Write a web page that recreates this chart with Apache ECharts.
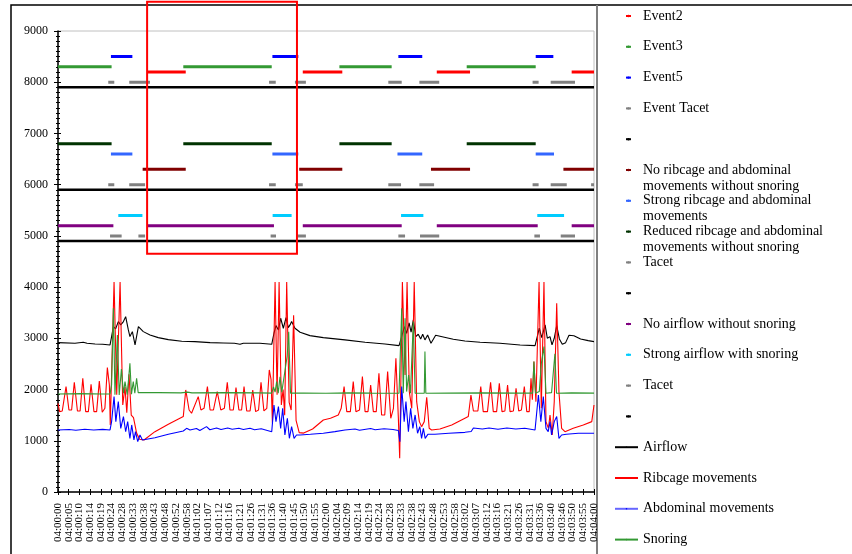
<!DOCTYPE html>
<html><head><meta charset="utf-8">
<script src="https://cdn.jsdelivr.net/npm/echarts@6/dist/echarts.min.js"></script>
<style>html,body{margin:0;padding:0;background:#fff}#c{width:852px;height:554px}</style>
</head><body><div id="c"></div>
<script>
// ---------------- DATA ----------------
const timeLabels = ['04:00:00','04:00:05','04:00:10','04:00:14','04:00:19','04:00:24','04:00:28','04:00:33','04:00:38','04:00:43','04:00:48','04:00:52','04:00:58','04:01:02','04:01:07','04:01:12','04:01:16','04:01:21','04:01:26','04:01:31','04:01:36','04:01:40','04:01:45','04:01:50','04:01:55','04:02:00','04:02:04','04:02:09','04:02:14','04:02:19','04:02:24','04:02:28','04:02:33','04:02:38','04:02:43','04:02:48','04:02:53','04:02:58','04:03:02','04:03:07','04:03:12','04:03:16','04:03:21','04:03:26','04:03:31','04:03:36','04:03:40','04:03:46','04:03:50','04:03:55','04:04:00'];
const labelStep = 4.8; // seconds between tick labels
const totalSeconds = 240;

// event segments [start s, end s]
const event2Segs = [[40.2,57.2],[109.6,127.3],[169.6,184.5],[230,240]];
const event3Segs = [[0,24],[56.1,95.7],[126,149.4],[183,213.9]];
const event5Segs = [[23.7,33.3],[96,107.6],[152.4,163.1],[213.9,221.8]];
const eventTacetSegs = [[22.5,25.2],[31.9,41.2],[94.5,97.5],[106.1,111],[147.9,153.9],[161.8,170.7],[212.5,215.2],[220.6,231.5]];
const noRibSegs = [[37.9,57.2],[108,127.3],[167,184.5],[226.3,240]];
const strongRibSegs = [[23.7,33.3],[96,107.6],[152,163.1],[213.9,222.1]];
const reducedRibSegs = [[0,24],[56.1,95.7],[126,149.4],[183,213.9]];
const tacetRibSegs = [[22.5,25.2],[31.9,39],[94.5,97.5],[106.1,109.6],[147.9,153.6],[161.8,168.4],[212.5,215.2],[220.6,227.8],[238.7,240]];
const noAirSegs = [[0,24.8],[40.2,96.7],[109.6,153.9],[169.6,214.8],[230,240]];
const strongAirSegs = [[27,37.8],[96.1,104.6],[153.6,163.6],[214.6,226.6]];
const tacetAirSegs = [[23.3,28.5],[36,39],[95.2,97.6],[106.6,111],[152.4,155.4],[162.1,170.7],[213.3,215.8],[225.1,231.5]];
const separatorSegs = [[0,240]];

// event levels
const levelEvent2 = 8200, levelEvent3 = 8300, levelEvent5 = 8500, levelEventTacet = 8000, levelSep1 = 7900;
const levelNoRib = 6300, levelStrongRib = 6600, levelReducedRib = 6800, levelTacetRib = 6000, levelSep2 = 5900;
const levelNoAir = 5200, levelStrongAir = 5400, levelTacetAir = 5000, levelSep3 = 4900;

// signals [seconds, value]
const airflow = [[0,2916],[7.6,2904],[11.3,2925],[13,2905],[16.6,2890],[20,2885],[23.3,2871],[24.0,3034],[24.8,3229],[25.8,3184],[27.0,3327],[28.1,3262],[29.3,3327],[30.3,3424],[31.5,3164],[32.2,3034],[33.3,3131],[34.5,2871],[36.0,3229],[38.2,3131],[41.2,3066],[44.9,3014],[49.4,2975],[55.4,2943],[61.3,2936],[68.1,2916],[74.0,2910],[79,2905],[81.5,2885],[83,2905],[90.4,2904],[95.7,2884],[96.7,3099],[97.6,3249],[98.7,3164],[99.7,3392],[100.9,3197],[102.1,3405],[103.1,3210],[103.9,3262],[104.6,3327],[106.1,3197],[108.4,3118],[112.8,3053],[118.8,3014],[128.5,2969],[137.5,2923],[146.4,2890],[152.7,2858],[153.9,3034],[155.1,3230],[156.1,3099],[157.2,3300],[158.1,3120],[159.1,3360],[160.2,3034],[161.3,3080],[162.4,2988],[163.3,3080],[164.3,2969],[165.5,3066],[167.0,2904],[169.1,3060],[172.5,3027],[177.0,2981],[182.2,2949],[189,2923],[197.9,2904],[206.9,2871],[213.6,2858],[214.6,3034],[215.5,3197],[216.6,3014],[218.1,3262],[219.1,3001],[220.3,3034],[221.2,2871],[222.2,3001],[223.3,3250],[224.5,2988],[225.8,2884],[227.3,2916],[228.8,3060],[231.0,3050],[234.0,2988],[237.4,2955],[240,2936]];

const ribcage = [[0,1732],[0.7,1569],[1.9,1582],[3.6,2058],[4.9,1601],[6.1,1601],[7.3,2142],[8.7,1582],[9.9,1582],[11.1,2220],[12.4,1569],[13.6,1569],[14.8,2103],[16.1,1569],[17.3,1569],[18.5,2168],[19.8,1556],[21.0,1634],[22.1,2428],[23.0,2090],[23.4,1309],[25.1,4100],[26.3,1900],[27.8,4100],[29.0,1700],[30.0,2050],[30.8,1550],[31.8,2300],[32.8,1500],[33.8,1450],[35.2,1150],[36.5,1030],[38.5,1016],[43.4,1178],[49.4,1321],[56.1,1472],[57.2,1992],[58.7,1601],[59.8,1537],[60.6,1537],[62.8,1862],[64.0,1601],[65.4,1634],[66.9,2058],[68.1,1601],[69.6,1601],[71.3,1960],[72.9,1601],[74.5,1634],[75.8,2142],[77.0,1601],[78.5,1601],[79.7,2038],[81.0,1601],[82.2,1601],[83.3,2058],[84.5,1582],[86.0,1582],[87.2,1992],[88.5,1569],[89.8,1601],[90.9,2142],[92.2,1582],[93.5,1634],[94.6,2383],[95.4,2200],[96.0,1350],[97.2,4100],[98.1,1900],[99.0,4100],[100.0,1700],[100.8,2000],[101.5,1500],[102.4,4100],[103.5,1750],[104.4,1600],[105.5,3450],[106.6,1400],[108.0,1160],[110,1150],[114,1230],[118.8,1406],[122,1440],[125.5,1504],[126.8,1634],[128.1,2058],[129.3,1569],[130.9,1569],[132.2,2155],[133.4,1569],[135,1601],[136.3,2253],[137.5,1569],[138.8,1569],[140.0,2090],[141.2,1569],[142.5,1569],[143.7,2318],[144.9,1504],[146.3,1504],[147.6,2350],[149.0,1439],[150.2,1634],[151.3,2611],[152.4,1439],[153.0,658],[154.2,4100],[155.4,2285],[156.3,4100],[157.3,1960],[158.4,1634],[159.5,4100],[160.6,1764],[161.8,1374],[162.8,1276],[164.0,1374],[165.1,1850],[166.2,1243],[167.3,1211],[171,1230],[176.3,1309],[182.2,1439],[183.7,1472],[184.9,1894],[186.0,1582],[188.0,1582],[189.3,2058],[190.4,1569],[192.3,1569],[193.7,2142],[194.9,1569],[196.4,1569],[197.6,2123],[198.8,1569],[200.1,1582],[201.3,2090],[202.4,1569],[203.9,1582],[205.1,2025],[206.3,1582],[207.5,1601],[208.8,2058],[209.9,1569],[211.0,1569],[211.8,2220],[212.4,1800],[213.1,2546],[214.0,1764],[215.4,4100],[216.4,1634],[217.6,4100],[218.5,1374],[219.6,1243],[220.3,1504],[221.3,1113],[222.2,1764],[223.3,3685],[224.3,1960],[225.5,1243],[227.0,1178],[230.7,1243],[235.2,1309],[239.0,1374],[240,1699]];

const abdominal = [[0,1211],[5,1220],[8,1205],[12,1225],[16,1210],[20,1222],[23.3,1211],[24.0,1374],[25.1,1862],[25.9,1374],[27.0,1764],[28.1,1243],[29.3,1472],[30.3,1178],[31.2,1374],[32.2,1048],[33.0,1309],[34.0,1016],[34.7,1178],[35.7,983],[36.7,1113],[37.8,1016],[43.4,1060],[49.4,1126],[56.1,1191],[57.6,1243],[59.1,1211],[62,1240],[63.5,1200],[66.5,1276],[68,1215],[71,1250],[73,1220],[76,1250],[78,1225],[81,1245],[83,1220],[86,1245],[88,1215],[91,1235],[95.7,1178],[96.7,1699],[97.6,1374],[98.7,1667],[99.7,1243],[100.6,1634],[101.6,1113],[102.7,1439],[103.6,1048],[104.6,1276],[105.7,1048],[106.8,1113],[108.4,1113],[113,1126],[118.8,1146],[124,1178],[128.5,1211],[133,1230],[135,1205],[140,1240],[142,1215],[146,1235],[150,1220],[152.4,1200],[153.1,983],[153.9,2058],[155.0,1374],[155.8,1764],[156.9,1178],[157.9,1634],[158.9,1243],[159.9,1504],[161.0,1146],[162.0,1276],[162.8,1048],[163.6,1243],[164.4,1048],[165.6,1126],[168.8,1126],[175,1146],[182.2,1165],[185,1180],[186,1250],[190,1230],[193,1250],[197,1225],[201,1250],[205,1230],[209,1245],[213.6,1211],[214.4,1178],[215.1,1894],[216.2,1374],[217.3,1862],[218.5,1243],[219.5,1178],[220.3,1374],[221.0,1113],[222.2,1374],[223.3,1472],[224.3,1048],[225.5,1113],[227.6,1126],[233,1146],[240,1146]];

const snoring = [[0,1914],[10,1920],[20,1914],[23.3,1914],[24.0,2090],[24.8,3587],[25.5,1900],[26.6,3066],[27.4,1894],[28.4,2400],[29.3,1927],[30.0,2155],[31.0,1900],[32.2,2513],[32.9,1910],[33.7,2155],[34.4,1927],[35.2,2220],[35.9,1940],[45,1940],[55,1935],[58,1950],[60,1935],[75,1940],[90,1935],[95.7,1930],[96.5,2050],[97.2,1950],[97.9,2155],[98.6,1930],[99.4,2250],[100.2,1950],[102.6,2650],[103.3,3130],[104.1,1930],[110,1930],[120,1927],[130,1935],[140,1930],[152.7,1927],[153.9,3587],[154.6,1927],[155.4,3392],[156.1,1960],[157.0,2285],[157.8,1927],[159.1,3327],[159.9,1927],[164.0,1930],[164.3,2741],[164.7,1927],[175,1930],[190,1935],[205,1930],[212.5,1930],[213.1,2546],[213.8,1927],[215.5,1960],[216.4,2500],[217.6,2838],[218.5,1927],[221,1940],[222.5,2700],[223.2,1927],[230,1935],[240,1930]];

// annotation box (data coordinates: seconds, value)
const annotX = [39.9, 107];
const annotY = [4650, 9570];

// ---------------- CHART ----------------
const FONT = "'Liberation Serif', 'Times New Roman', serif";
function segData(segs, level) {
  const d = [];
  segs.forEach(function (s) { d.push([s[0], level], [s[1], level], [s[1], '-']); });
  return d;
}
function evtSeries(name, segs, level, color, width) {
  return { name: name, type: 'line', data: segData(segs, level), symbol: 'none', connectNulls: false,
    lineStyle: { color: color, width: width || 3 }, itemStyle: { color: color }, silent: true, animation: false };
}
function sigSeries(name, data, color) {
  return { name: name, type: 'line', data: data, symbol: 'none', lineStyle: { color: color, width: 1.1 },
    itemStyle: { color: color }, silent: true, animation: false };
}
const NR = 'No ribcage and abdominal\nmovements without snoring';
const SR = 'Strong ribcage and abdominal\nmovements';
const RR = 'Reduced ribcage and abdominal\nmovements without snoring';
const series = [
  evtSeries('Event2', event2Segs, levelEvent2, '#FF0000'),
  evtSeries('Event3', event3Segs, levelEvent3, '#339933'),
  evtSeries('Event5', event5Segs, levelEvent5, '#0000FF'),
  evtSeries('Event Tacet', eventTacetSegs, levelEventTacet, '#808080'),
  evtSeries(' ', separatorSegs, levelSep1, '#000000', 2.5),
  evtSeries(NR, noRibSegs, levelNoRib, '#800000'),
  evtSeries(SR, strongRibSegs, levelStrongRib, '#3366FF'),
  evtSeries(RR, reducedRibSegs, levelReducedRib, '#003300'),
  evtSeries('Tacet', tacetRibSegs, levelTacetRib, '#808080'),
  evtSeries('  ', separatorSegs, levelSep2, '#000000', 2.5),
  evtSeries('No airflow without snoring', noAirSegs, levelNoAir, '#800080'),
  evtSeries('Strong airflow with snoring', strongAirSegs, levelStrongAir, '#00CCFF'),
  evtSeries('Tacet', tacetAirSegs, levelTacetAir, '#808080'),
  evtSeries('   ', separatorSegs, levelSep3, '#000000', 2.5),
  sigSeries('Airflow', airflow, '#000000'),
  sigSeries('Ribcage movements', ribcage, '#FF0000'),
  sigSeries('Abdominal movements', abdominal, '#0000FF'),
  sigSeries('Snoring', snoring, '#339933')
];

const legends = series.map(function (s, i) {
  const isLine = i >= 14;
  const two = s.name.indexOf('\n') >= 0;
  const c = 16 + i * 30.8;
  const padL = isLine ? 0 : 7;
  const lg = {
    data: [s.name], orient: 'vertical', left: isLine ? 614 : 625, top: c - (two ? 24 : 8),
    padding: 0, itemWidth: isLine ? 23 : 5, itemHeight: isLine ? 2 : 3, selectedMode: false,
    formatter: two ? function (n) { return '\n' + n; } : null,
    textStyle: { fontFamily: FONT, fontSize: 14, lineHeight: 16, color: '#000', padding: [0, 0, 0, padL] }
  };
  if (s.name === 'Abdominal movements') lg.lineStyle = { color: '#6666FF', width: 2 };
  return lg;
});

const axisFont = { fontFamily: FONT, color: '#000' };
// labels split over two overlaid axes (even / odd ticks) so neighbours are never auto-hidden
function timeLabelAxis(parity, tickInside, showLine) {
  return { type: 'value', min: 0, max: totalSeconds, interval: labelStep, position: 'bottom',
    axisLine: { show: showLine, onZero: false, lineStyle: { color: '#000', width: 1.5 } },
    axisTick: { show: true, inside: tickInside, length: 3, lineStyle: { color: '#000' } },
    splitLine: { show: false },
    axisLabel: Object.assign({ rotate: 90, fontSize: 11, lineHeight: 10, margin: 11, hideOverlap: false,
      showMinLabel: true, showMaxLabel: true,
      formatter: function (v) { const k = Math.round(v / labelStep); return (k % 2 === parity) ? (timeLabels[k] || '') : ''; } }, axisFont) };
}
const option = {
  animation: false,
  backgroundColor: '#fff',
  grid: { left: 58, right: 258, top: 31, bottom: 62, show: true, borderColor: '#c0c0c0', borderWidth: 1, containLabel: false },
  legend: legends,
  xAxis: [ timeLabelAxis(0, false, true), timeLabelAxis(1, true, false) ],
  yAxis: [
    { type: 'value', min: 0, max: 9000, interval: 1000, position: 'left',
      axisLine: { show: true, onZero: false, lineStyle: { color: '#000', width: 1.5 } },
      axisTick: { show: true, inside: false, length: 4, lineStyle: { color: '#000' } },
      minorTick: { show: true, splitNumber: 10, length: 2, lineStyle: { color: '#000' } },
      splitLine: { show: false }, minorSplitLine: { show: false },
      axisLabel: Object.assign({ fontSize: 12, margin: 10, formatter: function (v) { return String(v); } }, axisFont) },
    { type: 'value', min: 0, max: 9000, interval: 1000, position: 'left',
      axisLine: { show: false, onZero: false },
      axisTick: { show: true, inside: true, length: 3, lineStyle: { color: '#000' } },
      minorTick: { show: true, splitNumber: 10, length: 2, lineStyle: { color: '#000' } },
      splitLine: { show: false }, minorSplitLine: { show: false }, axisLabel: { show: false } }
  ],
  series: series
};

const chart = echarts.init(document.getElementById('c'));
chart.setOption(option);

const p1 = chart.convertToPixel({ xAxisIndex: 0, yAxisIndex: 0 }, [annotX[0], annotY[1]]);
const p2 = chart.convertToPixel({ xAxisIndex: 0, yAxisIndex: 0 }, [annotX[1], annotY[0]]);
chart.setOption({
  graphic: [
    { type: 'rect', shape: { x: 11, y: 5, width: 900, height: 600 }, style: { fill: 'none', stroke: '#000', lineWidth: 1.5 }, silent: true },
    { type: 'line', shape: { x1: 597, y1: 5, x2: 597, y2: 560 }, style: { stroke: '#7f7f7f', lineWidth: 2 }, silent: true },
    { type: 'rect', shape: { x: p1[0], y: p1[1], width: p2[0] - p1[0], height: p2[1] - p1[1] }, style: { fill: 'none', stroke: '#FF0000', lineWidth: 2 }, silent: true, z: 100 }
  ]
});
</script>
</body></html>
